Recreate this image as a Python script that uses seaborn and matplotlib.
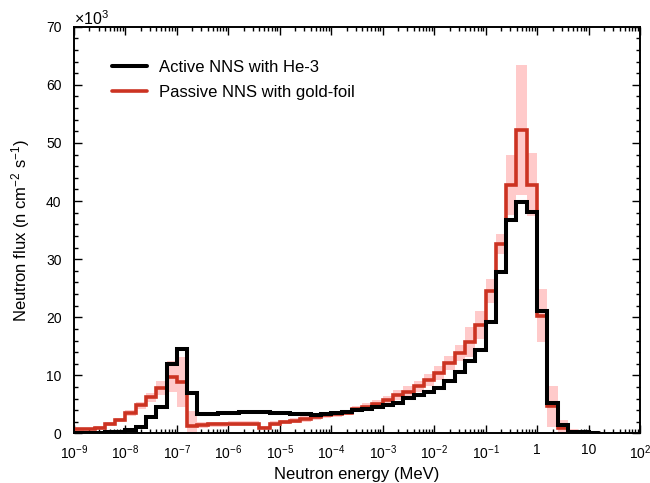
import numpy as np
import matplotlib
matplotlib.use("Agg")
import matplotlib.pyplot as plt
from matplotlib.ticker import FixedLocator, FixedFormatter, LogLocator, MultipleLocator, NullFormatter
import seaborn as sns

# energy bins: 5 per decade, log10 of the edges (MeV)
log_edges = np.round(np.arange(-9.0, 1.3, 0.2), 1)

# neutron flux per bin, in units of 10^3 n cm^-2 s^-1
active_he3 = [0.1, 0.1, 0.15, 0.2, 0.3, 0.6, 1.2, 2.8, 4.6, 11.9,
              14.5, 6.9, 3.3, 3.4, 3.5, 3.6, 3.7, 3.7, 3.7, 3.6,
              3.5, 3.4, 3.3, 3.2, 3.3, 3.5, 3.75, 4.0, 4.2, 4.6,
              4.9, 5.3, 6.1, 6.6, 7.2, 7.9, 9.1, 10.5, 12.4, 14.4,
              19.2, 27.8, 36.7, 39.9, 38.1, 21.0, 5.2, 1.5, 0.3, 0.2, 0.1]

passive_gold = [0.7, 0.75, 1.0, 1.6, 2.3, 3.5, 4.9, 6.2, 7.8, 9.8,
                8.9, 1.3, 1.5, 1.6, 1.6, 1.7, 1.7, 1.7, 1.0, 1.7,
                2.0, 2.2, 2.5, 2.8, 3.1, 3.3, 3.6, 4.2, 4.6, 5.1,
                5.8, 6.6, 7.2, 8.1, 9.2, 10.4, 12.1, 13.8, 15.7, 18.7,
                24.5, 32.6, 42.8, 52.2, 42.8, 20.3, 4.7, 0.9, 0.3, 0.1, 0.05]

passive_err = [0.2, 0.2, 0.3, 0.3, 0.4, 0.5, 0.6, 0.8, 1.2, 2.6,
               4.3, 2.5, 0.5, 0.4, 0.4, 0.4, 0.4, 0.4, 0.3, 0.4,
               0.4, 0.4, 0.5, 0.5, 0.5, 0.5, 0.5, 0.5, 0.6, 0.6,
               0.7, 0.8, 0.9, 1.0, 1.1, 1.2, 1.2, 1.4, 2.6, 2.4,
               2.0, 1.7, 5.2, 11.2, 5.4, 4.5, 3.5, 1.4, 0.4, 0.1, 0.05]

labels = ["Active NNS with He-3", "Passive NNS with gold-foil"]
x_ticks = [1e-9, 1e-8, 1e-7, 1e-6, 1e-5, 1e-4, 1e-3, 1e-2, 1e-1, 1, 10, 100]
x_ticklabels = [r"$10^{-9}$", r"$10^{-8}$", r"$10^{-7}$", r"$10^{-6}$", r"$10^{-5}$",
                r"$10^{-4}$", r"$10^{-3}$", r"$10^{-2}$", r"$10^{-1}$", "1", "10", r"$10^{2}$"]

sns.set_style("ticks")
plt.rcParams["font.family"] = ["Liberation Sans", "DejaVu Sans"]
plt.rcParams["mathtext.fontset"] = "custom"
plt.rcParams["mathtext.rm"] = "Liberation Sans"
plt.rcParams["mathtext.it"] = "Liberation Sans:italic"
plt.rcParams["text.color"] = "black"
plt.rcParams["axes.labelcolor"] = "black"
plt.rcParams["xtick.color"] = "black"
plt.rcParams["ytick.color"] = "black"
plt.rcParams["axes.edgecolor"] = "black"

edges = 10.0 ** log_edges
black = np.array(active_he3)
red = np.array(passive_gold)
err = np.array(passive_err)

fig = plt.figure(figsize=(6.5, 4.83), dpi=100)
ax = fig.add_axes([0.1138, 0.1025, 0.8708, 0.8422])

# error band of the passive measurement
lo = np.append(red - err, (red - err)[-1])
hi = np.append(red + err, (red + err)[-1])
ax.fill_between(edges, lo, hi, step="post", color="#ffcaca", lw=0, zorder=1)

red_y = np.append(red, 0)
black_y = np.append(black, 0)
sns.lineplot(x=edges, y=red_y, ax=ax, drawstyle="steps-post", color="#cc3322",
             lw=2.6, estimator=None, sort=False, zorder=2)
sns.lineplot(x=edges, y=black_y, ax=ax, drawstyle="steps-post", color="black",
             lw=2.9, estimator=None, sort=False, zorder=3)
for ln in ax.get_lines():
    ln.set_solid_joinstyle("miter")

ax.set_xscale("log")
ax.set_xlim(1e-9, 1e2)
ax.set_ylim(0, 70)

ax.xaxis.set_major_locator(FixedLocator(x_ticks))
ax.xaxis.set_major_formatter(FixedFormatter(x_ticklabels))
ax.xaxis.set_minor_locator(LogLocator(base=10, subs=np.arange(2, 10), numticks=30))
ax.xaxis.set_minor_formatter(NullFormatter())
ax.yaxis.set_major_locator(MultipleLocator(10))
ax.yaxis.set_minor_locator(MultipleLocator(2))

ax.tick_params(which="both", direction="in", top=True, right=True, labelsize=10, width=1.0)
ax.tick_params(which="major", length=6)
ax.tick_params(which="minor", length=3)
ax.tick_params(axis="x", pad=7)
ax.tick_params(axis="y", pad=9)
for sp in ax.spines.values():
    sp.set_linewidth(1.4)

ax.set_xlabel("Neutron energy (MeV)", fontsize=12, labelpad=4)
ax.set_ylabel(r"Neutron flux (n cm$^{-2}$ s$^{-1}$)", fontsize=12, labelpad=10)
ax.text(0.0, 1.003, r"$\times10^{3}$", transform=ax.transAxes, fontsize=11.5,
        ha="left", va="baseline")

lines = ax.get_lines()
ax.legend([lines[1], lines[0]], labels, loc="upper left", bbox_to_anchor=(0.04, 0.955),
          frameon=False, fontsize=12, handlelength=2.1, handletextpad=0.75, labelspacing=0.6)

fig.savefig("out.png", dpi=100)
